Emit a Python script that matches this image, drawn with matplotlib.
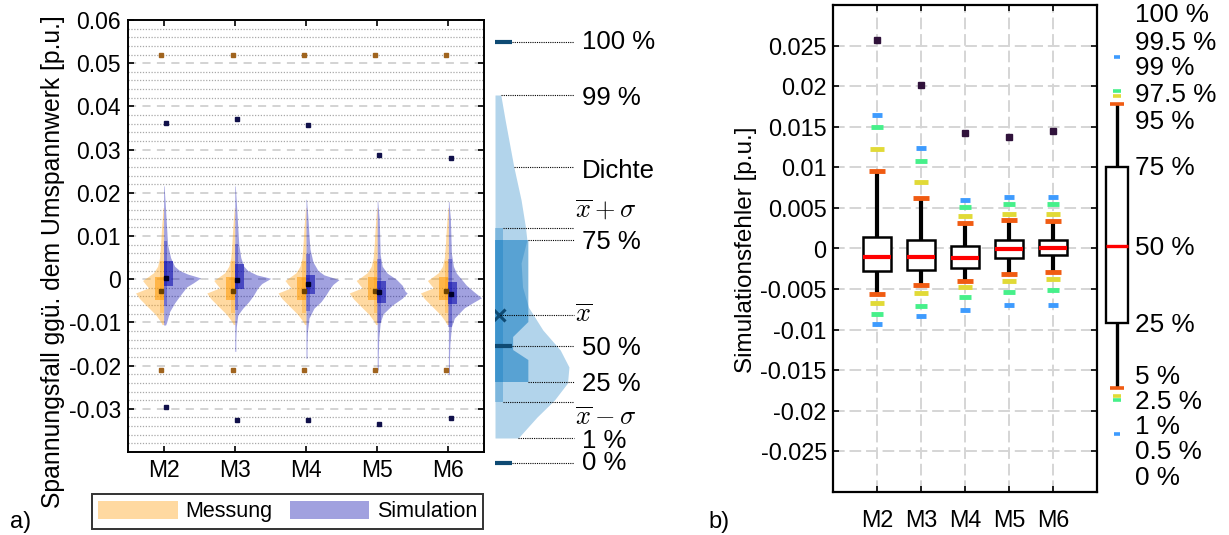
import numpy as np
import matplotlib.pyplot as plt
from matplotlib.patches import Patch, Rectangle, Polygon

plt.rcParams['font.family'] = ['Liberation Sans', 'DejaVu Sans']
plt.rcParams['mathtext.fontset'] = 'cm'

FIG_W, FIG_H = 1229, 535

CATS = ['M2', 'M3', 'M4', 'M5', 'M6']

# a) Messung: same distribution at every node
MESS_Y = [0.0166, 0.012, 0.008, 0.005, 0.003, 0.0015, 0.0005, -0.0003, -0.0012,
          -0.0020, -0.0032, -0.0045, -0.0059, -0.0082, -0.0098, -0.0105]
MESS_DENS = [0.5, 2, 3, 4, 6, 10, 16, 21, 18, 15, 28, 24, 18, 8, 3, 1.5]
MESS_Q1, MESS_MED, MESS_Q3 = -0.0047, -0.0027, 0.0006
MESS_MEAN, MESS_SD = -0.0018, 0.0060
MESS_MIN, MESS_MAX = -0.021, 0.052

# a) Simulation, one profile per node
SIM_Y = [
    [0.0216, 0.016, 0.012, 0.008, 0.005, 0.003, 0.002, 0.0012, 0.0003, -0.0008,
     -0.0018, -0.0036, -0.0055, -0.0075, -0.0100, -0.0106],
    [0.0216, 0.016, 0.012, 0.008, 0.005, 0.003, 0.002, 0.001, 0.0002, -0.0010,
     -0.0020, -0.0036, -0.0052, -0.0067, -0.0083, -0.0110, -0.0140, -0.0167],
    [0.0185, 0.014, 0.010, 0.007, 0.004, 0.002, 0.001, -0.0001, -0.0012, -0.0021,
     -0.0036, -0.0052, -0.0067, -0.0090, -0.0120, -0.0150, -0.0183],
    [0.0181, 0.014, 0.010, 0.0057, 0.0030, 0.0014, 0.0000, -0.0014, -0.0028, -0.0032,
     -0.0044, -0.0060, -0.0080, -0.0100, -0.0140, -0.0180, -0.0210],
    [0.0180, 0.014, 0.010, 0.006, 0.003, 0.0014, 0.0000, -0.0014, -0.0028, -0.0043,
     -0.0055, -0.0066, -0.0090, -0.0110, -0.0150, -0.0190, -0.0221],
]
SIM_DENS = [
    [0.5, 2, 3, 4, 7, 11, 16, 24, 37, 30, 23, 17, 11, 6, 3, 2],
    [0.5, 2, 3, 4, 6, 9, 13, 22, 36, 27, 23, 19, 14, 8, 3, 1.5, 1, 1],
    [0.5, 2, 3, 4, 7, 12, 18, 33, 27, 24, 20, 15, 8, 3, 1.5, 1, 1],
    [0.5, 2, 2.5, 3, 5, 10, 19, 25, 28, 30, 25, 15, 6, 3, 1.5, 1, 1],
    [0.5, 2, 2.5, 3, 5, 8, 13, 18, 25, 33, 24, 16, 6, 3, 1.5, 1, 1],
]
SIM_Q1 = [-0.0016, -0.0023, -0.0034, -0.0055, -0.0057]
SIM_MED = [0.0003, -0.0003, -0.0011, -0.0030, -0.0035]
SIM_Q3 = [0.0043, 0.0036, 0.0009, -0.0005, -0.0007]
SIM_MEAN = [0.0013, 0.0005, -0.0008, -0.0028, -0.0032]
SIM_SD = [0.0075, 0.0076, 0.0066, 0.0074, 0.0078]
SIM_MIN = [-0.0295, -0.0326, -0.0326, -0.0335, -0.0321]
SIM_MAX = [0.0361, 0.0371, 0.0356, 0.0288, 0.0281]

# key for a): example violin (arbitrary units)
KEY_DENS_Y = [3.85, 3.60, 3.13, 2.80, 2.53, 2.40, 2.17, 1.93, 1.73, 1.50, 1.30,
              1.13, 0.97, 0.80, 0.63, 0.42]
KEY_DENS_W = [0.04, 0.07, 0.13, 0.18, 0.21, 0.22, 0.18, 0.19, 0.23, 0.33, 0.45,
              0.51, 0.50, 0.41, 0.29, 0.16]
KEY_P0, KEY_P1, KEY_P25, KEY_P50 = 0.17, 0.42, 0.98, 1.34
KEY_P75, KEY_P99, KEY_P100 = 2.40, 3.85, 4.38
KEY_MEAN, KEY_SD = 1.65, 0.87
KEY_NOTCH = [1.20, 1.30, 1.43, 1.58]

# b) Simulationsfehler percentiles
ERR_MAX = [0.0257, 0.0201, 0.0142, 0.0137, 0.0145]
ERR_P995 = [0.0165, 0.0124, 0.0060, 0.0064, 0.0063]
ERR_P99 = [0.0150, 0.0108, 0.0051, 0.0055, 0.0055]
ERR_P975 = [0.0122, 0.0082, 0.0040, 0.0043, 0.0042]
ERR_P95 = [0.0095, 0.0062, 0.0031, 0.0035, 0.0034]
ERR_Q3 = [0.00145, 0.0011, 0.0003, 0.0010, 0.0011]
ERR_MED = [-0.0010, -0.0011, -0.0012, -0.0001, 0.0001]
ERR_Q1 = [-0.0028, -0.0026, -0.0024, -0.0012, -0.0008]
ERR_P5 = [-0.0056, -0.0045, -0.0040, -0.0032, -0.0029]
ERR_P25 = [-0.0067, -0.0055, -0.0048, -0.0040, -0.0037]
ERR_P1 = [-0.0081, -0.0071, -0.0060, -0.0054, -0.0051]
ERR_P05 = [-0.0093, -0.0083, -0.0076, -0.0070, -0.0070]

# key for b): schematic box (arbitrary units)
BKEY_P995, BKEY_P99, BKEY_P975, BKEY_P95 = 4.35, 4.01, 3.96, 3.88
BKEY_Q3, BKEY_MED, BKEY_Q1 = 3.25, 2.46, 1.69
BKEY_P5, BKEY_P25, BKEY_P1, BKEY_P05 = 1.04, 0.96, 0.92, 0.58
BKEY_LABELS = ['100 %', '99.5 %', '99 %', '97.5 %', '95 %', '75 %', '50 %',
               '25 %', '5 %', '2.5 %', '1 %', '0.5 %', '0 %']
BKEY_LABEL_Y = [4.77, 4.49, 4.24, 3.97, 3.70, 3.24, 2.44, 1.67, 1.15, 0.90,
                0.65, 0.40, 0.14]

ORANGE = '#FF9900'
PURPLE = '#0000AA'
KEY_BLUE = '#0072BD'
KEY_DARK = '#0E4A73'
P_COLORS = {'max': '#30123B', 'p995': '#3E9BFE', 'p99': '#46F08A',
            'p975': '#E1DA37', 'p95': '#F05B12'}

DENS_SCALE = 1 / 71.2
BOX_W = 0.126
SD_W = 0.05


def px_axes(fig, left, top, right, bottom):
    return fig.add_axes([left / FIG_W, 1 - bottom / FIG_H,
                         (right - left) / FIG_W, (bottom - top) / FIG_H])


def half_violin(ax, x, ys, dens, side, color, q1, med, q3, mean, sd, dark):
    ys = np.asarray(ys)
    w = np.asarray(dens) * DENS_SCALE
    edge = x + side * w
    ax.fill_betweenx(ys, np.minimum(x, edge), np.maximum(x, edge),
                     color=color, alpha=0.37, lw=0, zorder=2)
    x0 = x if side > 0 else x - SD_W
    ax.add_patch(Rectangle((x0, mean - sd), SD_W, 2 * sd, color=color,
                           alpha=0.3, lw=0, zorder=3))
    x0 = x if side > 0 else x - BOX_W
    ax.add_patch(Rectangle((x0, q1), BOX_W, q3 - q1, color=color,
                           alpha=0.55, lw=0, zorder=3))
    ax.plot(x + side * 0.03, med, 's', ms=3.3, color=dark, zorder=5)


fig = plt.figure(figsize=(FIG_W / 100, FIG_H / 100), dpi=100)

# ---------------- a) violins
ax = px_axes(fig, 128, 20, 484, 452)
pos = np.arange(1, len(CATS) + 1)
for i, x in enumerate(pos):
    half_violin(ax, x, MESS_Y, MESS_DENS, -1, ORANGE, MESS_Q1, MESS_MED,
                MESS_Q3, MESS_MEAN, MESS_SD, '#6E4300')
    half_violin(ax, x, SIM_Y[i], SIM_DENS[i], 1, PURPLE, SIM_Q1[i], SIM_MED[i],
                SIM_Q3[i], SIM_MEAN[i], SIM_SD[i], '#000028')
ax.plot(pos - 0.03, [MESS_MAX] * len(pos), 's', ms=3.3, color='#A0641E', zorder=5)
ax.plot(pos - 0.03, [MESS_MIN] * len(pos), 's', ms=3.3, color='#A0641E', zorder=5)
ax.plot(pos + 0.03, SIM_MAX, 's', ms=3.3, color='#10104A', zorder=5)
ax.plot(pos + 0.03, SIM_MIN, 's', ms=3.3, color='#10104A', zorder=5)

ax.set_xlim(0.5, 5.5)
ax.set_ylim(-0.04, 0.06)
ax.set_xticks(pos, CATS)
yt = np.arange(-0.03, 0.0601, 0.01)
ax.set_yticks(yt, ['{:g}'.format(round(v, 3)) for v in yt])
ax.set_yticks(np.arange(-0.038, 0.06, 0.002), minor=True)
ax.set_axisbelow(True)
ax.grid(axis='y', which='major', color='#D0D0D0', lw=1.3, ls=(0, (4.5, 3.5)))
ax.grid(axis='y', which='minor', color='#A8A8A8', lw=0.9, ls=(0, (1, 1.3)))
ax.tick_params(direction='in', length=4, width=1.2, top=True, right=True,
               labelsize=16.5, colors='black')
ax.tick_params(axis='y', pad=5)
ax.tick_params(axis='x', pad=5)
ax.tick_params(which='minor', length=0)
for s in ax.spines.values():
    s.set_linewidth(1.4)
fig.text(53 / FIG_W, 1 - 262 / FIG_H, 'Spannungsfall ggü. dem Umspannwerk [p.u.]',
         rotation=90, ha='center', va='center', fontsize=17.8)

handles = [Patch(facecolor=ORANGE, alpha=0.37, edgecolor='none', label='Messung'),
           Patch(facecolor=PURPLE, alpha=0.37, edgecolor='none', label='Simulation')]
leg = ax.legend(handles=handles, loc='center', ncol=2, fontsize=15.5,
                bbox_to_anchor=(287.5 / FIG_W, 1 - 511.5 / FIG_H),
                bbox_transform=fig.transFigure, frameon=True, fancybox=False,
                edgecolor='black', handlelength=3.7, handleheight=0.92,
                handletextpad=0.35, columnspacing=0.8, borderpad=0.3,
                borderaxespad=0)
leg.get_frame().set_linewidth(1.4)
fig.text(10 / FIG_W, 1 - 522 / FIG_H, 'a)', fontsize=17, va='center')

# ---------------- key for a)
kx = px_axes(fig, 495, 20, 640, 480)
kx.set_xlim(0, 1)
kx.set_ylim(0, 4.6)
kx.axis('off')
kx.fill_betweenx(KEY_DENS_Y, 0, KEY_DENS_W, color=KEY_BLUE, alpha=0.3, lw=0)
bw = 0.23
box = [(0, KEY_P25), (bw, KEY_P25), (bw, KEY_NOTCH[0]), (0.125, KEY_NOTCH[1]),
       (0.125, KEY_NOTCH[2]), (bw, KEY_NOTCH[3]), (bw, KEY_P75), (0, KEY_P75)]
kx.add_patch(Polygon(box, closed=True, color=KEY_BLUE, alpha=0.5, lw=0))
kx.add_patch(Rectangle((0, KEY_MEAN - KEY_SD), 0.057, 2 * KEY_SD, color=KEY_BLUE,
                       alpha=0.3, lw=0))
for v in (KEY_P0, KEY_P50, KEY_P100):
    kx.plot([0, 0.115], [v, v], color=KEY_DARK, lw=3, solid_capstyle='butt')
kx.plot(0.028, KEY_MEAN, 'x', ms=8, mew=2.2, color=KEY_DARK)

leaders = [(KEY_P100, 0.115), (KEY_P99, 0.04), (3.13, 0.13),
           (KEY_MEAN + KEY_SD, 0.057), (KEY_P75, 0.23), (KEY_MEAN, 0.035),
           (KEY_P50, 0.115), (KEY_P25, 0.23), (KEY_MEAN - KEY_SD, 0.057),
           (KEY_P1, 0.16), (KEY_P0, 0.115)]
for v, x0 in leaders:
    kx.plot([x0, 0.545], [v, v], color='black', lw=0.8, ls=(0, (1, 1)))
key_labels = [('100 %', KEY_P100), ('99 %', 3.82), ('Dichte', 3.09),
              ('75 %', 2.38), ('50 %', 1.32), ('25 %', 0.96), ('1 %', 0.39),
              ('0 %', 0.17)]
for t, v in key_labels:
    kx.text(0.6, v, t, fontsize=18.5, va='center', ha='left')
for t, v in [(r'$\overline{x} + \sigma$', 2.70), (r'$\overline{x}$', KEY_MEAN),
             (r'$\overline{x} - \sigma$', 0.62)]:
    kx.text(0.55, v, t, fontsize=19, va='center', ha='left')

# ---------------- b) boxplots
bx = px_axes(fig, 833, 5, 1097, 492)
stats = [dict(med=ERR_MED[i], q1=ERR_Q1[i], q3=ERR_Q3[i], whislo=ERR_P5[i],
              whishi=ERR_P95[i], fliers=[]) for i in range(len(CATS))]
bx.bxp(stats, positions=pos, widths=0.62, showcaps=False, patch_artist=True,
       boxprops=dict(facecolor='white', edgecolor='black', lw=1.8),
       whiskerprops=dict(color='black', lw=3, solid_capstyle='butt'),
       medianprops=dict(color='red', lw=3, solid_capstyle='butt'))
marks = [(ERR_P95, ERR_P5, 'p95', 12.2), (ERR_P975, ERR_P25, 'p975', 9.4),
         (ERR_P99, ERR_P1, 'p99', 8), (ERR_P995, ERR_P05, 'p995', 6.5)]
for hi, lo, key, ms in marks:
    bx.plot(pos, hi, ls='none', marker='_', ms=ms, mew=3.5,
            color=P_COLORS[key], zorder=4)
    bx.plot(pos, lo, ls='none', marker='_', ms=ms, mew=3.5,
            color=P_COLORS[key], zorder=4)
bx.plot(pos, ERR_MAX, ls='none', marker='s', ms=5, color=P_COLORS['max'], zorder=4)

bx.set_xlim(0, 6)
bx.set_ylim(-0.03, 0.03)
bx.set_xticks(pos, CATS)
yt = np.arange(-0.025, 0.0251, 0.005)
bx.set_yticks(yt, ['{:g}'.format(round(v, 4)) for v in yt])
bx.set_axisbelow(True)
bx.grid(True, color='#D5D5D5', lw=1.4, ls=(0, (6, 2.5)))
bx.tick_params(direction='in', length=4.5, width=1.2, top=True, right=True,
               labelsize=16.8, colors='black')
bx.tick_params(axis='y', pad=4.5)
bx.tick_params(axis='x', pad=12)
for s in bx.spines.values():
    s.set_linewidth(1.6)
fig.text(746 / FIG_W, 1 - 250 / FIG_H, 'Simulationsfehler [p.u.]', rotation=90,
         ha='center', va='center', fontsize=17.5)
fig.text(708 / FIG_W, 1 - 522 / FIG_H, 'b)', fontsize=17, va='center')

# ---------------- key for b)
rk = px_axes(fig, 1095, 5, 1229, 492)
rk.set_xlim(0, 1)
rk.set_ylim(0, 4.87)
rk.axis('off')
c, w = 0.164, 0.164
rk.plot([c, c], [BKEY_Q3, BKEY_P95], color='black', lw=2.4, solid_capstyle='butt')
rk.plot([c, c], [BKEY_Q1, BKEY_P5], color='black', lw=2.4, solid_capstyle='butt')
rk.add_patch(Rectangle((c - w / 2, BKEY_Q1), w, BKEY_Q3 - BKEY_Q1,
                       facecolor='white', edgecolor='black', lw=1.7, zorder=3))
rk.plot([c - w / 2, c + w / 2], [BKEY_MED] * 2, color='red', lw=2.4,
        solid_capstyle='butt', zorder=4)
for v, key, ms in [(BKEY_P95, 'p95', 10), (BKEY_P975, 'p975', 5.8),
                   (BKEY_P99, 'p99', 5.8), (BKEY_P995, 'p995', 5),
                   (BKEY_P5, 'p95', 10), (BKEY_P25, 'p975', 5.8),
                   (BKEY_P1, 'p99', 5.8), (BKEY_P05, 'p995', 5)]:
    rk.plot(c, v, marker='_', ms=ms, mew=2.6, color=P_COLORS[key], zorder=5)
for t, v in zip(BKEY_LABELS, BKEY_LABEL_Y):
    rk.text(0.30, v, t, fontsize=18.8, va='center', ha='left')

fig.savefig('out.png', dpi=100)
